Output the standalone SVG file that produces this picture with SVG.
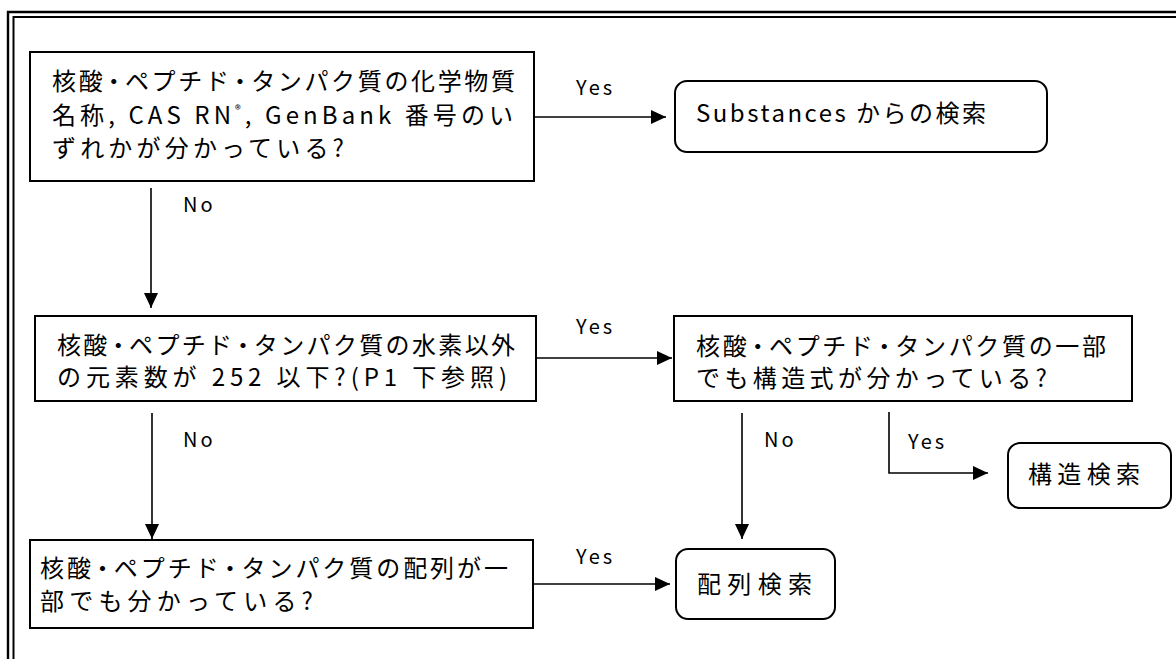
<svg xmlns="http://www.w3.org/2000/svg" width="1176" height="659" viewBox="0 0 1176 659">
<defs>
<style>
.box{fill:#fff;stroke:#000;stroke-width:2}
.t{font-family:"Noto Sans CJK JP","DejaVu Sans",sans-serif;font-size:24px;fill:#000}
.lbl{font-family:"Noto Sans CJK JP","DejaVu Sans",sans-serif;font-size:20px;letter-spacing:3px;fill:#000}
.c{fill:none;stroke:#000;stroke-width:1.6}
.frame{fill:none;stroke:#000}
</style>
<marker id="ah" markerUnits="userSpaceOnUse" markerWidth="16" markerHeight="16" viewBox="0 0 16 16" refX="15" refY="8" orient="auto">
<path d="M0,1 L15,8 L0,15 Z" fill="#000"/>
</marker>
</defs>
<rect width="1176" height="659" fill="#fff"/>
<g id="frame">
<path class="frame" d="M8,659 V12 H1176" stroke-width="2.4"/>
<path class="frame" d="M13.5,659 V17 H1176" stroke-width="2"/>
</g>
<g id="connectors">
<path class="c" d="M534,117 H666" marker-end="url(#ah)"/>
<path class="c" d="M151,188 V308" marker-end="url(#ah)"/>
<path class="c" d="M536,358 H672" marker-end="url(#ah)"/>
<path class="c" d="M152,413 V539" marker-end="url(#ah)"/>
<path class="c" d="M742,413 V539" marker-end="url(#ah)"/>
<path class="c" d="M889,412 V473 H988" marker-end="url(#ah)"/>
<path class="c" d="M533,584 H670" marker-end="url(#ah)"/>
<text class="lbl" x="576" y="95">Yes</text>
<text class="lbl" x="183" y="212">No</text>
<text class="lbl" x="576" y="334">Yes</text>
<text class="lbl" x="183" y="447">No</text>
<text class="lbl" x="764" y="447">No</text>
<text class="lbl" x="908" y="449">Yes</text>
<text class="lbl" x="576" y="564">Yes</text>
</g>
<g id="q1">
<rect class="box" x="30" y="52" width="504" height="129"/>
<text class="t" x="52" y="90" textLength="463" lengthAdjust="spacing">核酸<tspan dx="-3.5">・</tspan><tspan dx="-3.5">ペプチド</tspan><tspan dx="-3.5">・</tspan><tspan dx="-3.5">タンパク質の化学物質</tspan></text>
<text class="t" x="52" y="124" textLength="461" lengthAdjust="spacing">名称, CAS RN<tspan font-size="12" dy="-10">®</tspan><tspan dy="10">, GenBank 番号のい</tspan></text>
<text class="t" x="52" y="157" textLength="292" lengthAdjust="spacing">ずれかが分かっている?</text>
</g>
<g id="substances">
<rect class="box" x="675" y="81" width="372" height="71" rx="12"/>
<text class="t" x="696" y="122" textLength="290" lengthAdjust="spacing">Substances からの検索</text>
</g>
<g id="q2">
<rect class="box" x="35" y="316" width="501" height="85"/>
<text class="t" x="57" y="354" textLength="458" lengthAdjust="spacing">核酸<tspan dx="-3.5">・</tspan><tspan dx="-3.5">ペプチド</tspan><tspan dx="-3.5">・</tspan><tspan dx="-3.5">タンパク質の水素以外</tspan></text>
<text class="t" x="57" y="386" textLength="450" lengthAdjust="spacing">の元素数が 252 以下?(P1 下参照)</text>
</g>
<g id="q3">
<rect class="box" x="674" y="316" width="458" height="85"/>
<text class="t" x="696" y="355" textLength="410" lengthAdjust="spacing">核酸<tspan dx="-3.5">・</tspan><tspan dx="-3.5">ペプチド</tspan><tspan dx="-3.5">・</tspan><tspan dx="-3.5">タンパク質の一部</tspan></text>
<text class="t" x="696" y="387" textLength="351" lengthAdjust="spacing">でも構造式が分かっている?</text>
</g>
<g id="structure">
<rect class="box" x="1008" y="443" width="163" height="65" rx="12"/>
<text class="t" x="1028" y="483" textLength="112" lengthAdjust="spacing">構造検索</text>
</g>
<g id="q4">
<rect class="box" x="30" y="540" width="503" height="88"/>
<text class="t" x="40" y="577" textLength="468" lengthAdjust="spacing">核酸<tspan dx="-3.5">・</tspan><tspan dx="-3.5">ペプチド</tspan><tspan dx="-3.5">・</tspan><tspan dx="-3.5">タンパク質の配列が一</tspan></text>
<text class="t" x="40" y="610" textLength="273" lengthAdjust="spacing">部でも分かっている?</text>
</g>
<g id="sequence">
<rect class="box" x="676" y="549" width="159" height="70" rx="12"/>
<text class="t" x="697" y="593" textLength="115" lengthAdjust="spacing">配列検索</text>
</g>
</svg>
